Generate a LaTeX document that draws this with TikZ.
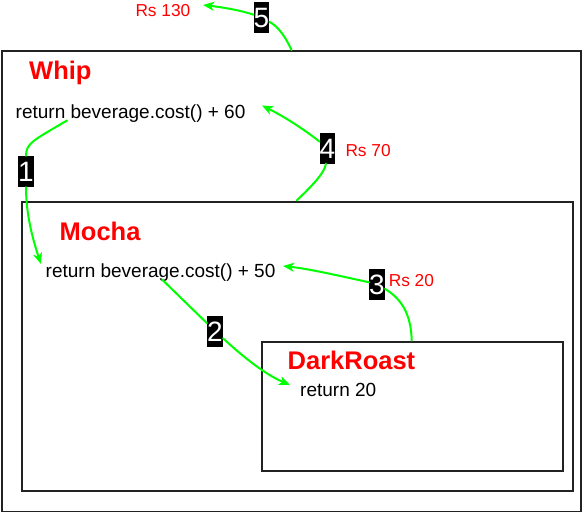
\documentclass[tikz,border=0pt]{standalone}
\usepackage{fontspec}
\setmainfont{Liberation Sans}
\usetikzlibrary{arrows.meta}
\definecolor{lime}{HTML}{00FF00}
\definecolor{redtxt}{HTML}{FF0000}
\definecolor{boxline}{HTML}{222222}
\begin{document}
\begin{tikzpicture}[x=1pt,y=-1pt,
  box/.style={draw=boxline,line width=2pt,inner sep=0pt,anchor=north west},
  title/.style={anchor=base west,inner sep=0pt,text=redtxt,font=\fontsize{25.5}{30}\selectfont\bfseries},
  code/.style={anchor=base west,inner sep=0pt,text=black,font=\fontsize{19}{22}\selectfont},
  price/.style={anchor=base west,inner sep=0pt,text=redtxt,font=\fontsize{17.3}{20}\selectfont},
  numlab/.style={fill=black,text=white,inner sep=0pt,minimum width=15.6pt,minimum height=31pt,
    text height=20pt,text depth=0pt,font=\fontsize{28}{31}\selectfont},
  flow/.style={draw=lime,line width=2pt,line cap=round},
  flowarrow/.style={flow,-{Stealth[length=11pt,width=9pt,inset=3pt]}}]
\useasboundingbox (0,0) rectangle (582,512);
% boxes
\node[box,minimum width=579pt,minimum height=461pt] (whip) at (1,50) {};
\node[box,minimum width=550.5pt,minimum height=289.5pt] (mocha) at (21,200.5) {};
\node[box,minimum width=300.5pt,minimum height=129.5pt] (dark) at (261,340.5) {};
% titles
\node[title] (tw) at (29,79) {Whip};
\node[title] (tm) at (59.5,240) {Mocha};
\node[title] (td) at (287.5,369.3) {DarkRoast};
% code texts
\node[code] (c60) at (15.5,118.3) {return beverage.cost() + 60};
\node[code] (c50) at (45.5,277.3) {return beverage.cost() + 50};
\node[code] (c20) at (300,396.7) {return 20};
% prices
\node[price] (p130) at (135.3,16.7) {Rs 130};
\node[price] (p70) at (345.3,156.7) {Rs 70};
\node[price] (p20) at (388.6,286.7) {Rs 20};
% step labels
\node[numlab] (l1) at (26,171.5) {1};
\node[numlab] (l2) at (215,331) {2};
\node[numlab] (l3) at (377,284) {3};
\node[numlab] (l4) at (327.5,148) {4};
\node[numlab] (l5) at (261.5,17.5) {5};
% connector ends
\coordinate (s1) at (67,120.5);
\coordinate (e1) at (41,264);
\coordinate (s2) at (162,279.5);
\coordinate (e2) at (290,385);
\coordinate (s3) at (411.7,340.5);
\coordinate (e3) at (283,266);
\coordinate (s4) at (296.7,200.5);
\coordinate (e4) at (262,105.5);
\coordinate (s5) at (291.5,50);
\coordinate (e5) at (203,5);
% connectors
\draw[flow] (s1) .. controls (34,140) and (26,143) .. (l1);
\draw[flowarrow] (l1) .. controls (26,215) and (33,240) .. (e1);
\draw[flow] (s2) -- (l2);
\draw[flowarrow] (l2) .. controls (238,352) and (262,373) .. (e2);
\draw[flow] (s3) .. controls (411,312) and (400,298) .. (l3);
\draw[flowarrow] (l3) .. controls (340,276) and (310,269) .. (e3);
\draw[flow] (s4) .. controls (314,184) and (325,172) .. (l4);
\draw[flowarrow] (l4) .. controls (305,130) and (285,117) .. (e4);
\draw[flow] (s5) .. controls (286,38) and (279,27) .. (l5);
\draw[flowarrow] (l5) .. controls (240,10) and (220,7) .. (e5);
\end{tikzpicture}
\end{document}
